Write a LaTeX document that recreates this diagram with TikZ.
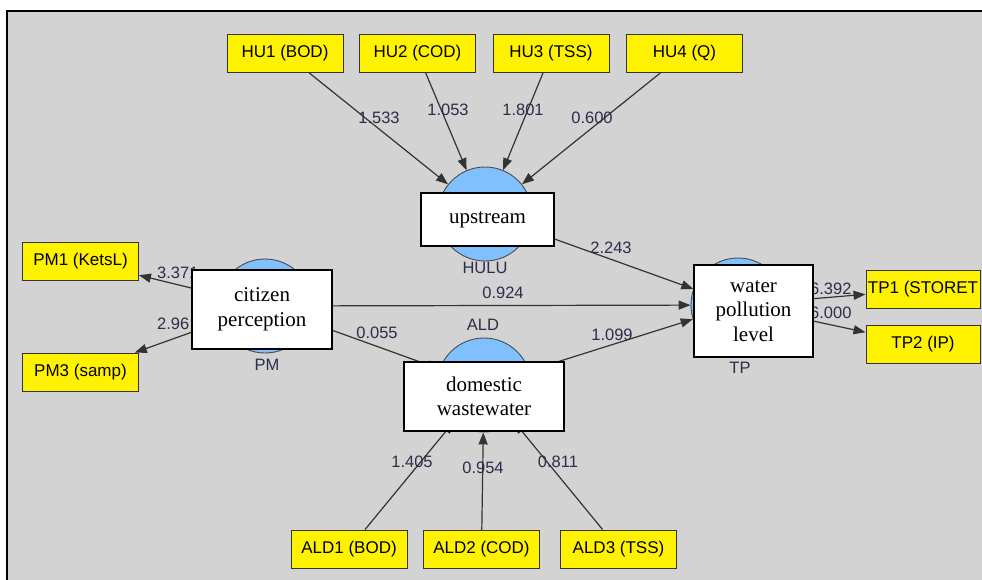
\documentclass[tikz,border=0pt]{standalone}
\usepackage{fontspec}
\setmainfont{Liberation Serif}
\newfontfamily\arialf{Liberation Sans}
\usetikzlibrary{arrows.meta}
\definecolor{panelgray}{RGB}{211,211,211}
\definecolor{lvblue}{RGB}{128,192,255}
\definecolor{numcol}{RGB}{45,45,75}
\begin{document}
\begin{tikzpicture}[x=1pt,y=-1pt,
 ind/.style={draw=black!80, fill=yellow, line width=0.9pt, minimum width=116pt, minimum height=38pt, inner sep=1pt, font=\arialf\fontsize{17}{20}\selectfont},
 lv/.style={circle, draw=black!70, fill=lvblue, line width=0.9pt, minimum size=94pt, inner sep=0pt},
 cbox/.style={draw=black, fill=white, line width=2.5pt, align=center, font=\fontsize{21}{24.5}\selectfont, inner sep=0pt},
 conn/.style={draw=black!80, line width=1.2pt, -{Triangle[length=12pt,width=9pt]}},
 num/.style={text=numcol, font=\arialf\fontsize{16.5}{19}\selectfont, inner sep=0pt},
 lvname/.style={text=numcol, font=\arialf\fontsize{16.5}{19}\selectfont, inner sep=0pt}]

\useasboundingbox (0,0) rectangle (982,579);
\clip (0,0) rectangle (982,579);
\fill[white] (0,0) rectangle (982,579);
\draw[fill=panelgray, line width=2pt] (7,11) rectangle (1000,600);

% latent variables
\node[lv] (hulu) at (485,214) {};
\node[lv] (pm) at (265,306) {};
\node[lv] (ald) at (484,385) {};
\node[lv] (tp) at (738,305) {};

% indicators
\node[ind] (hu1) at (285,53.5) {HU1 (BOD)};
\node[ind] (hu2) at (417.5,53.5) {HU2 (COD)};
\node[ind] (hu3) at (551,53.5) {HU3 (TSS)};
\node[ind] (hu4) at (684.5,53.5) {HU4 (Q)};
\node[ind] (pm1) at (80.5,261) {PM1 (KetsL)};
\node[ind] (pm3) at (80.5,372) {PM3 (samp)};
\node[ind, minimum width=114pt] (tp1) at (923,289.5) {TP1 (STORET};
\node[ind, minimum width=114pt] (tp2) at (923,344.5) {TP2 (IP)};
\node[ind] (ald1) at (349,549) {ALD1 (BOD)};
\node[ind] (ald2) at (481.5,549.5) {ALD2 (COD)};
\node[ind] (ald3) at (618.5,549) {ALD3 (TSS)};

% connectors
\draw[conn] (hu1) -- (hulu);
\draw[conn] (hu2) -- (hulu);
\draw[conn] (hu3) -- (hulu);
\draw[conn] (hu4) -- (hulu);
\draw[conn] (pm) -- (pm1);
\draw[conn] (pm) -- (pm3);
\draw[conn] (tp) -- (tp1);
\draw[conn] (tp) -- (tp2);
\draw[conn] (ald1) -- (ald);
\draw[conn] (ald2) -- (ald);
\draw[conn] (ald3) -- (ald);
\draw[conn] (hulu) -- (tp);
\draw[conn] (pm) -- (tp);
\draw[conn] (pm) -- (ald);
\draw[conn] (ald) -- (tp);

% coefficient labels
\node[num] (l1) at (379,118) {1.533};
\node[num] (l2) at (448,110) {1.053};
\node[num] (l3) at (523,110) {1.801};
\node[num] (l4) at (592,118) {0.600};
\node[num] (l5) at (611,248) {2.243};
\node[num] (l6) at (503,293) {0.924};
\node[num] (l7) at (612,335) {1.099};
\node[num] (l8) at (377,333) {0.055};
\node[num, anchor=west] (l9) at (157,273) {3.371};
\node[num, anchor=west] (l10) at (157,324) {2.96};
\node[num, anchor=west] (l11) at (810,289) {6.392};
\node[num, anchor=west] (l12) at (810,313) {6.000};
\node[num] (l13) at (412,462) {1.405};
\node[num] (l14) at (483,468) {0.954};
\node[num] (l15) at (558,462) {0.811};

% latent names
\node[lvname] (nhulu) at (485,268) {HULU};
\node[lvname] (npm) at (267,365) {PM};
\node[lvname] (nald) at (483,325) {ALD};
\node[lvname] (ntp) at (740,368) {TP};

% white boxes
\node[cbox, minimum width=133pt, minimum height=53pt] (bup) at (487.5,219.5) {upstream};
\node[cbox, minimum width=140pt, minimum height=79pt] (bcit) at (262,309.5) {citizen\\perception};
\node[cbox, minimum width=119pt, minimum height=92pt] (bwat) at (753.5,311) {water\\pollution\\level};
\node[cbox, minimum width=160pt, minimum height=69pt] (bdom) at (484,396.5) {domestic\\wastewater};
\end{tikzpicture}
\end{document}
